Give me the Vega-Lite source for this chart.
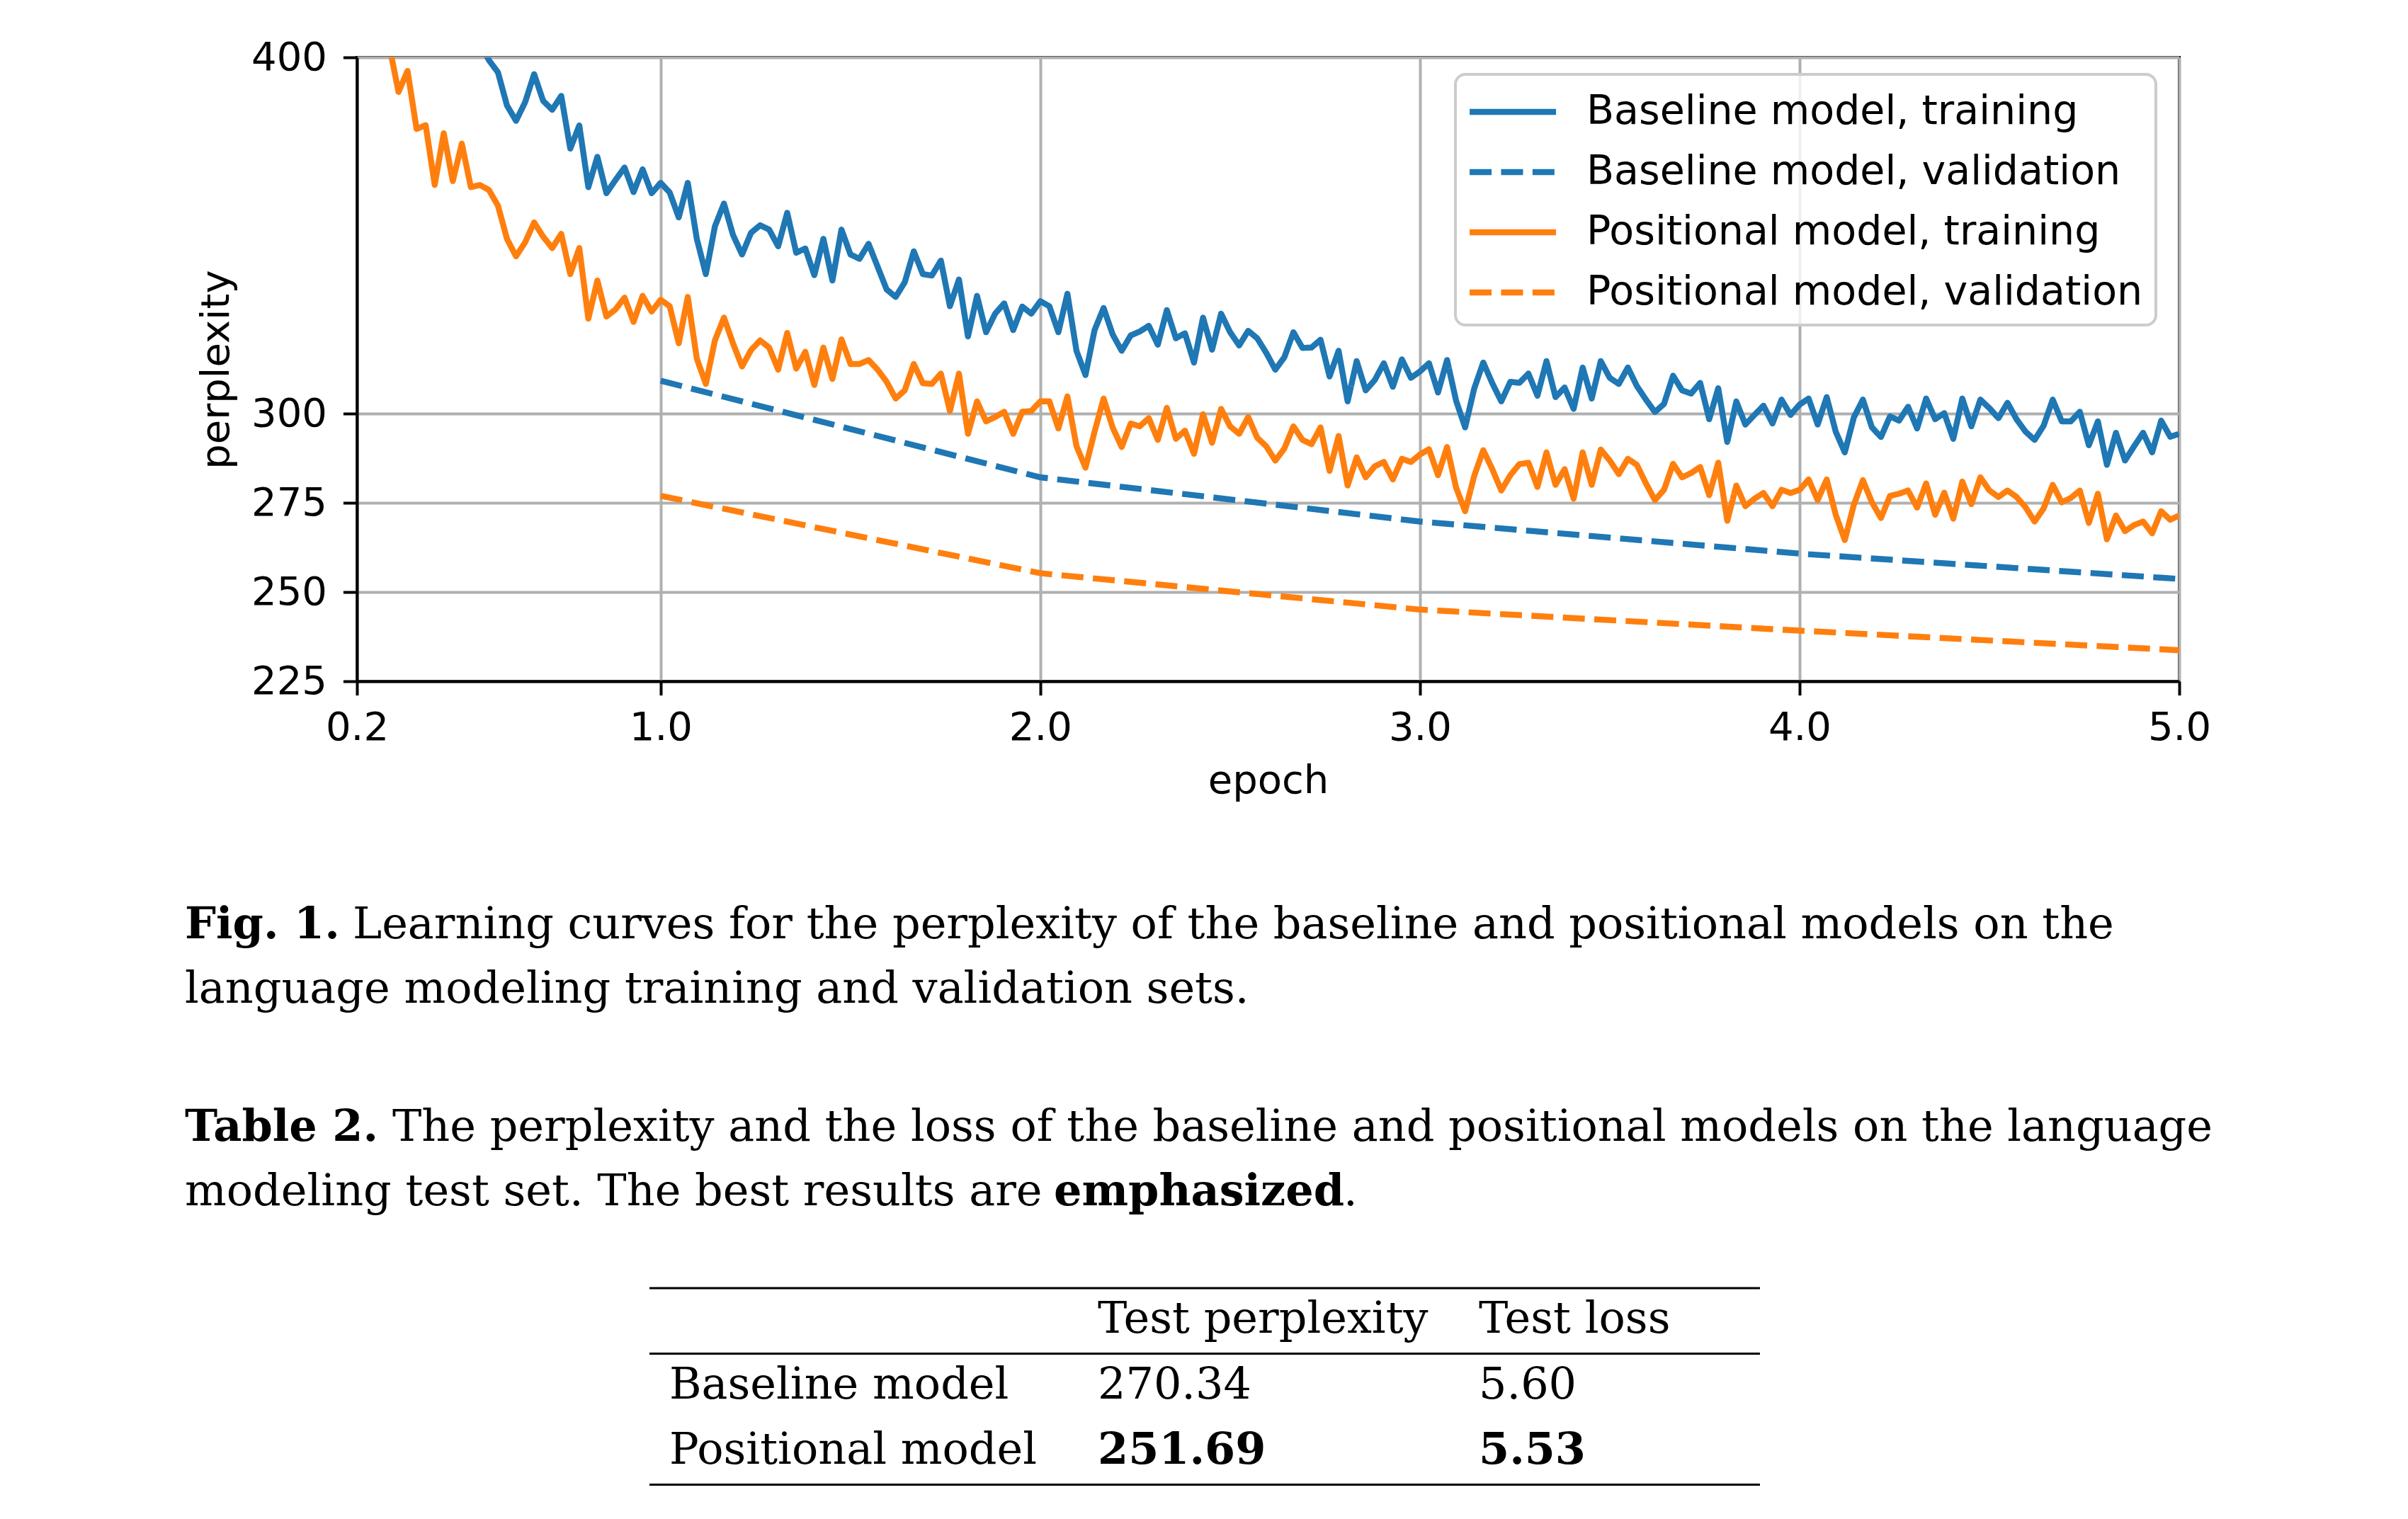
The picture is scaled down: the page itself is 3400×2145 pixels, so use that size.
{
  "$schema": "https://vega.github.io/schema/vega-lite/v6.json",
  "background": "white",
  "autosize": {"type": "pad"},
  "padding": {"left": 261, "top": 51, "right": 20, "bottom": 20},
  "config": {
    "font": "DejaVu Sans",
    "view": {"stroke": "black", "strokeWidth": 4},
    "axis": {
      "labelFont": "DejaVu Sans", "labelFontSize": 56, "labelColor": "black",
      "titleFont": "DejaVu Sans", "titleFontSize": 56, "titleFontWeight": "normal", "titleColor": "black",
      "tickSize": 19.6, "tickWidth": 4, "tickColor": "black",
      "domainColor": "black", "domainWidth": 4,
      "grid": true, "gridColor": "#b0b0b0", "gridWidth": 4, "gridOpacity": 1,
      "labelFlush": false, "labelOverlap": false, "labelBound": false
    },
    "axisX": {"labelPadding": 19, "titlePadding": 20},
    "axisY": {"labelPadding": 23, "titlePadding": 20},
    "legend": {
      "padding": 18,
      "symbolType": "M-1.08,0L2.92,0", "symbolSize": 3721, "symbolStrokeWidth": 8.4,
      "labelFont": "DejaVu Sans", "labelFontSize": 57, "labelColor": "black",
      "labelOffset": 97, "rowPadding": 22, "labelLimit": 0,
      "strokeColor": "#cccccc", "strokeWidth": 4, "fillColor": "rgba(255,255,255,0.8)", "cornerRadius": 14
    }
  },
  "spacing": 317,
  "bounds": "flush",
  "vconcat": [
    {
      "width": 2573,
      "height": 881,
      "encoding": {
        "x": {"field": "epoch", "type": "quantitative", "scale": {"domain": [0.2, 5], "nice": false, "zero": false}, "axis": {"values": [0.2, 1, 2, 3, 4, 5], "format": ".1f", "title": "epoch"}},
        "y": {"field": "value", "type": "quantitative", "scale": {"domain": [225, 400], "nice": false, "zero": false}, "axis": {"values": [225, 250, 275, 300, 400], "title": "perplexity"}},
        "color": {"field": "series", "type": "nominal", "scale": {"domain": ["BT", "BV", "PT", "PV"], "range": ["#1f77b4", "#1f77b4", "#ff7f0e", "#ff7f0e"]}, "legend": {"title": null, "orient": "none", "legendX": 1551, "legendY": 24, "labelExpr": "datum.label == 'BT' ? 'Baseline model, training' : datum.label == 'BV' ? 'Baseline model, validation' : datum.label == 'PT' ? 'Positional model, training' : 'Positional model, validation'"}},
        "strokeDash": {"field": "series", "type": "nominal", "scale": {"domain": ["BT", "BV", "PT", "PV"], "range": [[1, 0], [31, 13.4], [1, 0], [31, 13.4]]}, "legend": {"title": null, "orient": "none", "legendX": 1551, "legendY": 24, "labelExpr": "datum.label == 'BT' ? 'Baseline model, training' : datum.label == 'BV' ? 'Baseline model, validation' : datum.label == 'PT' ? 'Positional model, training' : 'Positional model, validation'"}}
      },
      "layer": [
        {
          "data": {"values": [
            {"epoch":0.2143,"BT":455,"PT":432},{"epoch":0.2381,"BT":449,"PT":420},{"epoch":0.2619,"BT":444,"PT":411},{"epoch":0.2857,"BT":440,"PT":403},
            {"epoch":0.3095,"BT":434,"PT":390.3},{"epoch":0.3333,"BT":431,"PT":396.2},{"epoch":0.3571,"BT":427,"PT":379.9},{"epoch":0.381,"BT":424,"PT":381.0},
            {"epoch":0.4048,"BT":420,"PT":364.2},{"epoch":0.4286,"BT":418,"PT":378.7},{"epoch":0.4524,"BT":414,"PT":365.3},{"epoch":0.4762,"BT":411,"PT":375.8},
            {"epoch":0.5,"BT":408,"PT":363.6},{"epoch":0.5238,"BT":404,"PT":364.2},{"epoch":0.5476,"BT":399.2,"PT":362.8},{"epoch":0.5714,"BT":395.8,"PT":358.4},
            {"epoch":0.5952,"BT":386.5,"PT":349.1},{"epoch":0.619,"BT":382.2,"PT":344.2},{"epoch":0.6429,"BT":387.4,"PT":348.1},{"epoch":0.6667,"BT":395.3,"PT":353.7},
            {"epoch":0.6905,"BT":387.8,"PT":349.7},{"epoch":0.7143,"BT":385.3,"PT":346.5},{"epoch":0.7381,"BT":389.2,"PT":350.5},{"epoch":0.7619,"BT":374.4,"PT":339.2},
            {"epoch":0.7857,"BT":380.9,"PT":346.5},{"epoch":0.8095,"BT":363.6,"PT":326.7},{"epoch":0.8333,"BT":372.1,"PT":337.4},{"epoch":0.8571,"BT":361.9,"PT":327.3},
            {"epoch":0.881,"BT":365.6,"PT":329.3},{"epoch":0.9048,"BT":369.1,"PT":332.6},{"epoch":0.9286,"BT":362.2,"PT":325.8},{"epoch":0.9524,"BT":368.6,"PT":333.1},
            {"epoch":0.9762,"BT":361.9,"PT":328.7},{"epoch":1.0,"BT":364.8,"PT":332.0},{"epoch":1.0238,"BT":362.1,"PT":330.2},{"epoch":1.0476,"BT":355.1,"PT":319.8},
            {"epoch":1.0714,"BT":364.8,"PT":332.8},{"epoch":1.0952,"BT":349.1,"PT":315.5},{"epoch":1.119,"BT":339.2,"PT":308.4},{"epoch":1.1429,"BT":352.6,"PT":320.6},
            {"epoch":1.1667,"BT":359.0,"PT":327.0},{"epoch":1.1905,"BT":350.2,"PT":319.8},{"epoch":1.2143,"BT":344.7,"PT":313.3},{"epoch":1.2381,"BT":350.8,"PT":317.9},
            {"epoch":1.2619,"BT":352.9,"PT":320.6},{"epoch":1.2857,"BT":351.7,"PT":318.6},{"epoch":1.3095,"BT":347.0,"PT":312.4},{"epoch":1.3333,"BT":356.4,"PT":322.7},
            {"epoch":1.3571,"BT":345.2,"PT":312.7},{"epoch":1.381,"BT":346.4,"PT":317.4},{"epoch":1.4048,"BT":338.9,"PT":308.1},{"epoch":1.4286,"BT":349.1,"PT":318.6},
            {"epoch":1.4524,"BT":337.4,"PT":309.8},{"epoch":1.4762,"BT":351.7,"PT":320.9},{"epoch":1.5,"BT":344.7,"PT":314.0},{"epoch":1.5238,"BT":343.5,"PT":314.0},
            {"epoch":1.5476,"BT":347.7,"PT":315.1},{"epoch":1.5714,"BT":341.3,"PT":312.4},{"epoch":1.5952,"BT":334.9,"PT":309.0},{"epoch":1.619,"BT":332.8,"PT":304.3},
            {"epoch":1.6429,"BT":336.9,"PT":306.6},{"epoch":1.6667,"BT":345.6,"PT":314.0},{"epoch":1.6905,"BT":339.2,"PT":308.6},{"epoch":1.7143,"BT":338.8,"PT":308.4},
            {"epoch":1.7381,"BT":343.0,"PT":311.3},{"epoch":1.7619,"BT":330.2,"PT":300.8},{"epoch":1.7857,"BT":337.7,"PT":311.3},{"epoch":1.8095,"BT":321.7,"PT":294.4},
            {"epoch":1.8333,"BT":333.1,"PT":303.5},{"epoch":1.8571,"BT":322.9,"PT":297.9},{"epoch":1.881,"BT":328.1,"PT":299.1},{"epoch":1.9048,"BT":331.0,"PT":300.6},
            {"epoch":1.9286,"BT":323.5,"PT":294.4},{"epoch":1.9524,"BT":330.1,"PT":300.6},{"epoch":1.9762,"BT":328.1,"PT":300.8},{"epoch":2.0,"BT":331.6,"PT":303.5},
            {"epoch":2.0238,"BT":330.2,"PT":303.5},{"epoch":2.0476,"BT":322.9,"PT":295.9},{"epoch":2.0714,"BT":333.7,"PT":304.9},{"epoch":2.0952,"BT":317.7,"PT":291.0},
            {"epoch":2.119,"BT":310.9,"PT":284.9},{"epoch":2.1429,"BT":323.5,"PT":295.0},{"epoch":2.1667,"BT":329.7,"PT":304.3},{"epoch":2.1905,"BT":322.3,"PT":296.2},
            {"epoch":2.2143,"BT":317.7,"PT":290.7},{"epoch":2.2381,"BT":322.0,"PT":297.3},{"epoch":2.2619,"BT":323.1,"PT":296.5},{"epoch":2.2857,"BT":324.7,"PT":298.8},
            {"epoch":2.3095,"BT":319.4,"PT":292.7},{"epoch":2.3333,"BT":329.1,"PT":301.7},{"epoch":2.3571,"BT":321.2,"PT":293.0},{"epoch":2.381,"BT":322.6,"PT":295.3},
            {"epoch":2.4048,"BT":314.4,"PT":288.8},{"epoch":2.4286,"BT":327.0,"PT":299.9},{"epoch":2.4524,"BT":318.0,"PT":291.9},{"epoch":2.4762,"BT":328.1,"PT":301.4},
            {"epoch":2.5,"BT":322.9,"PT":296.5},{"epoch":2.5238,"BT":319.2,"PT":294.4},{"epoch":2.5476,"BT":323.3,"PT":299.1},{"epoch":2.5714,"BT":321.2,"PT":293.3},
            {"epoch":2.5952,"BT":317.1,"PT":290.9},{"epoch":2.619,"BT":312.4,"PT":286.9},{"epoch":2.6429,"BT":315.9,"PT":290.3},{"epoch":2.6667,"BT":322.9,"PT":296.5},
            {"epoch":2.6905,"BT":318.5,"PT":292.7},{"epoch":2.7143,"BT":318.6,"PT":291.5},{"epoch":2.7381,"BT":320.8,"PT":296.2},{"epoch":2.7619,"BT":310.5,"PT":284.0},
            {"epoch":2.7857,"BT":317.7,"PT":293.8},{"epoch":2.8095,"BT":303.5,"PT":279.9},{"epoch":2.8333,"BT":314.8,"PT":287.8},{"epoch":2.8571,"BT":306.6,"PT":282.2},
            {"epoch":2.881,"BT":309.5,"PT":285.3},{"epoch":2.9048,"BT":314.2,"PT":286.5},{"epoch":2.9286,"BT":307.6,"PT":281.6},{"epoch":2.9524,"BT":315.3,"PT":287.4},
            {"epoch":2.9762,"BT":310.1,"PT":286.5},{"epoch":3.0,"BT":311.9,"PT":288.6},{"epoch":3.0238,"BT":314.2,"PT":290.1},{"epoch":3.0476,"BT":306.0,"PT":282.8},
            {"epoch":3.0714,"BT":315.1,"PT":290.7},{"epoch":3.0952,"BT":303.7,"PT":279.3},{"epoch":3.119,"BT":296.2,"PT":272.7},{"epoch":3.1429,"BT":307.1,"PT":282.6},
            {"epoch":3.1667,"BT":314.4,"PT":289.8},{"epoch":3.1905,"BT":308.6,"PT":284.5},{"epoch":3.2143,"BT":303.5,"PT":278.5},{"epoch":3.2381,"BT":309.0,"PT":282.8},
            {"epoch":3.2619,"BT":308.7,"PT":285.9},{"epoch":3.2857,"BT":311.3,"PT":286.3},{"epoch":3.3095,"BT":305.1,"PT":279.5},{"epoch":3.3333,"BT":314.8,"PT":289.2},
            {"epoch":3.3571,"BT":304.7,"PT":280.1},{"epoch":3.381,"BT":307.4,"PT":284.5},{"epoch":3.4048,"BT":301.4,"PT":276.2},{"epoch":3.4286,"BT":313.0,"PT":289.2},
            {"epoch":3.4524,"BT":304.3,"PT":280.1},{"epoch":3.4762,"BT":314.8,"PT":290.0},{"epoch":3.5,"BT":310.1,"PT":286.9},{"epoch":3.5238,"BT":308.4,"PT":283.1},
            {"epoch":3.5476,"BT":313.0,"PT":287.4},{"epoch":3.5714,"BT":307.8,"PT":285.7},{"epoch":3.5952,"BT":304.0,"PT":280.5},{"epoch":3.619,"BT":300.5,"PT":275.8},
            {"epoch":3.6429,"BT":302.8,"PT":278.7},{"epoch":3.6667,"BT":310.7,"PT":286.0},{"epoch":3.6905,"BT":306.6,"PT":282.2},{"epoch":3.7143,"BT":305.7,"PT":283.4},
            {"epoch":3.7381,"BT":308.7,"PT":285.1},{"epoch":3.7619,"BT":298.5,"PT":277.2},{"epoch":3.7857,"BT":307.2,"PT":286.3},{"epoch":3.8095,"BT":292.1,"PT":270.0},
            {"epoch":3.8333,"BT":303.5,"PT":279.9},{"epoch":3.8571,"BT":297.0,"PT":274.1},{"epoch":3.881,"BT":299.7,"PT":276.2},{"epoch":3.9048,"BT":302.3,"PT":277.8},
            {"epoch":3.9286,"BT":297.3,"PT":274.1},{"epoch":3.9524,"BT":304.0,"PT":278.7},{"epoch":3.9762,"BT":299.7,"PT":277.8},{"epoch":4.0,"BT":302.6,"PT":278.7},
            {"epoch":4.0238,"BT":304.3,"PT":281.6},{"epoch":4.0476,"BT":297.0,"PT":275.8},{"epoch":4.0714,"BT":304.7,"PT":281.6},{"epoch":4.0952,"BT":295.0,"PT":271.7},
            {"epoch":4.119,"BT":289.2,"PT":264.6},{"epoch":4.1429,"BT":299.0,"PT":274.5},{"epoch":4.1667,"BT":304.0,"PT":281.4},{"epoch":4.1905,"BT":296.2,"PT":275.2},
            {"epoch":4.2143,"BT":293.5,"PT":270.8},{"epoch":4.2381,"BT":299.3,"PT":277.0},{"epoch":4.2619,"BT":298.1,"PT":277.6},{"epoch":4.2857,"BT":302.0,"PT":278.5},
            {"epoch":4.3095,"BT":295.9,"PT":273.7},{"epoch":4.3333,"BT":304.3,"PT":280.5},{"epoch":4.3571,"BT":298.5,"PT":271.7},{"epoch":4.381,"BT":300.2,"PT":277.9},
            {"epoch":4.4048,"BT":293.0,"PT":270.6},{"epoch":4.4286,"BT":304.3,"PT":281.0},{"epoch":4.4524,"BT":296.5,"PT":274.7},{"epoch":4.4762,"BT":304.0,"PT":282.2},
            {"epoch":4.5,"BT":301.6,"PT":278.5},{"epoch":4.5238,"BT":298.8,"PT":276.7},{"epoch":4.5476,"BT":303.1,"PT":278.5},{"epoch":4.5714,"BT":298.5,"PT":276.7},
            {"epoch":4.5952,"BT":295.0,"PT":273.8},{"epoch":4.619,"BT":292.7,"PT":269.8},{"epoch":4.6429,"BT":296.7,"PT":273.5},{"epoch":4.6667,"BT":304.0,"PT":280.1},
            {"epoch":4.6905,"BT":297.9,"PT":275.2},{"epoch":4.7143,"BT":297.9,"PT":276.4},{"epoch":4.7381,"BT":300.6,"PT":278.5},{"epoch":4.7619,"BT":291.2,"PT":269.4},
            {"epoch":4.7857,"BT":297.9,"PT":277.6},{"epoch":4.8095,"BT":285.7,"PT":264.8},{"epoch":4.8333,"BT":294.7,"PT":271.5},{"epoch":4.8571,"BT":286.9,"PT":267.1},
            {"epoch":4.881,"BT":290.9,"PT":268.8},{"epoch":4.9048,"BT":294.7,"PT":269.8},{"epoch":4.9286,"BT":289.2,"PT":266.5},{"epoch":4.9524,"BT":298.1,"PT":272.7},
            {"epoch":4.9762,"BT":293.6,"PT":270.3},{"epoch":5.0,"BT":294.4,"PT":271.5}
          ]},
          "transform": [{"fold": ["BT", "PT"], "as": ["series", "value"]}],
          "mark": {"type": "line", "clip": true, "strokeWidth": 8.4, "strokeJoin": "round"}
        },
        {
          "data": {"values": [
            {"epoch": 1, "BV": 309.3, "PV": 277.0},
            {"epoch": 2, "BV": 282.2, "PV": 255.3},
            {"epoch": 3, "BV": 269.8, "PV": 245.1},
            {"epoch": 4, "BV": 260.8, "PV": 239.2},
            {"epoch": 5, "BV": 253.7, "PV": 233.7}
          ]},
          "transform": [{"fold": ["BV", "PV"], "as": ["series", "value"]}],
          "mark": {"type": "line", "clip": true, "strokeWidth": 8.4, "strokeCap": "butt"}
        }
      ]
    },
    {
      "spacing": 104,
      "bounds": "flush",
      "vconcat": [
        {
          "width": 2573,
          "height": 182,
          "view": {"stroke": null},
          "data": {"values": [
            {"line": 1, "part": "lead", "text": "Fig. 1."},
            {"line": 1, "part": "body", "text": "Learning curves for the perplexity of the baseline and positional models on the"},
            {"line": 2, "part": "cont", "text": "language modeling training and validation sets."}
          ]},
          "encoding": {
            "y": {"field": "line", "type": "ordinal", "scale": {"type": "point", "domain": [1, 2]}, "axis": null},
            "x": {"value": 0},
            "text": {"field": "text"}
          },
          "layer": [
            {"transform": [{"filter": "datum.part == 'lead'"}], "mark": {"type": "text", "align": "left", "baseline": "alphabetic", "font": "DejaVu Serif", "fontSize": 62, "fontWeight": "bold", "color": "black", "dx": -243}},
            {"transform": [{"filter": "datum.part == 'body'"}], "mark": {"type": "text", "align": "left", "baseline": "alphabetic", "font": "DejaVu Serif", "fontSize": 62, "color": "black", "dx": -6}},
            {"transform": [{"filter": "datum.part == 'cont'"}], "mark": {"type": "text", "align": "left", "baseline": "alphabetic", "font": "DejaVu Serif", "fontSize": 62, "color": "black", "dx": -243}}
          ]
        },
        {
          "spacing": 72,
          "bounds": "flush",
          "center": true,
          "vconcat": [
            {
              "width": 2394,
              "height": 182,
              "view": {"stroke": null},
              "data": {"values": [
                {"line": 1, "part": "lead", "text": "Table 2."},
                {"line": 1, "part": "body", "text": "The perplexity and the loss of the baseline and positional models on the language"},
                {"line": 2, "part": "cont", "text": "modeling test set. The best results are"},
                {"line": 2, "part": "emph", "text": "emphasized"},
                {"line": 2, "part": "end", "text": "."}
              ]},
              "encoding": {
                "y": {"field": "line", "type": "ordinal", "scale": {"type": "point", "domain": [1, 2]}, "axis": null},
                "x": {"value": 0},
                "text": {"field": "text"}
              },
              "layer": [
                {"transform": [{"filter": "datum.part == 'lead'"}], "mark": {"type": "text", "align": "left", "baseline": "alphabetic", "font": "DejaVu Serif", "fontSize": 62, "fontWeight": "bold", "color": "black", "dx": -243}},
                {"transform": [{"filter": "datum.part == 'body'"}], "mark": {"type": "text", "align": "left", "baseline": "alphabetic", "font": "DejaVu Serif", "fontSize": 62, "color": "black", "dx": 50}},
                {"transform": [{"filter": "datum.part == 'cont'"}], "mark": {"type": "text", "align": "left", "baseline": "alphabetic", "font": "DejaVu Serif", "fontSize": 62, "color": "black", "dx": -243}},
                {"transform": [{"filter": "datum.part == 'emph'"}], "mark": {"type": "text", "align": "left", "baseline": "alphabetic", "font": "DejaVu Serif", "fontSize": 62, "fontWeight": "bold", "color": "black", "dx": 984}},
                {"transform": [{"filter": "datum.part == 'end'"}], "mark": {"type": "text", "align": "left", "baseline": "alphabetic", "font": "DejaVu Serif", "fontSize": 62, "color": "black", "dx": 1393}}
              ]
            },
            {
              "width": 1568,
              "height": 277.5,
              "view": {"stroke": null},
              "data": {"values": [
                {"row": "header", "col": "ppl", "text": "Test perplexity"},
                {"row": "header", "col": "loss", "text": "Test loss"},
                {"row": "Baseline model", "col": "model", "text": "Baseline model"},
                {"row": "Baseline model", "col": "ppl", "text": "270.34"},
                {"row": "Baseline model", "col": "loss", "text": "5.60"},
                {"row": "Positional model", "col": "model", "text": "Positional model"},
                {"row": "Positional model", "col": "ppl", "text": "251.69"},
                {"row": "Positional model", "col": "loss", "text": "5.53"}
              ]},
              "encoding": {
                "y": {"field": "row", "type": "nominal", "scale": {"type": "band", "domain": ["header", "Baseline model", "Positional model"], "paddingInner": 0, "paddingOuter": 0}, "axis": null, "bandPosition": 0.686},
                "x": {"value": 0},
                "text": {"field": "text"}
              },
              "layer": [
                {"data": {"values": [{}]}, "mark": {"type": "rule", "strokeWidth": 3, "color": "black"}, "encoding": {"y": {"datum": "header", "type": "nominal", "bandPosition": 0}, "x": null, "text": null}},
                {"data": {"values": [{}]}, "mark": {"type": "rule", "strokeWidth": 3, "color": "black"}, "encoding": {"y": {"datum": "header", "type": "nominal", "bandPosition": 1}, "x": null, "text": null}},
                {"data": {"values": [{}]}, "mark": {"type": "rule", "strokeWidth": 3, "color": "black"}, "encoding": {"y": {"datum": "Positional model", "type": "nominal", "bandPosition": 1}, "x": null, "text": null}},
                {"transform": [{"filter": "datum.col == 'model'"}], "mark": {"type": "text", "align": "left", "baseline": "alphabetic", "font": "DejaVu Serif", "fontSize": 62, "color": "black", "dx": 28}},
                {"transform": [{"filter": "datum.col == 'ppl' && datum.row != 'Positional model'"}], "mark": {"type": "text", "align": "left", "baseline": "alphabetic", "font": "DejaVu Serif", "fontSize": 62, "color": "black", "dx": 633}},
                {"transform": [{"filter": "datum.col == 'ppl' && datum.row == 'Positional model'"}], "mark": {"type": "text", "align": "left", "baseline": "alphabetic", "font": "DejaVu Serif", "fontSize": 62, "fontWeight": "bold", "color": "black", "dx": 633}},
                {"transform": [{"filter": "datum.col == 'loss' && datum.row != 'Positional model'"}], "mark": {"type": "text", "align": "left", "baseline": "alphabetic", "font": "DejaVu Serif", "fontSize": 62, "color": "black", "dx": 1171}},
                {"transform": [{"filter": "datum.col == 'loss' && datum.row == 'Positional model'"}], "mark": {"type": "text", "align": "left", "baseline": "alphabetic", "font": "DejaVu Serif", "fontSize": 62, "fontWeight": "bold", "color": "black", "dx": 1171}}
              ]
            }
          ]
        }
      ]
    }
  ]
}
